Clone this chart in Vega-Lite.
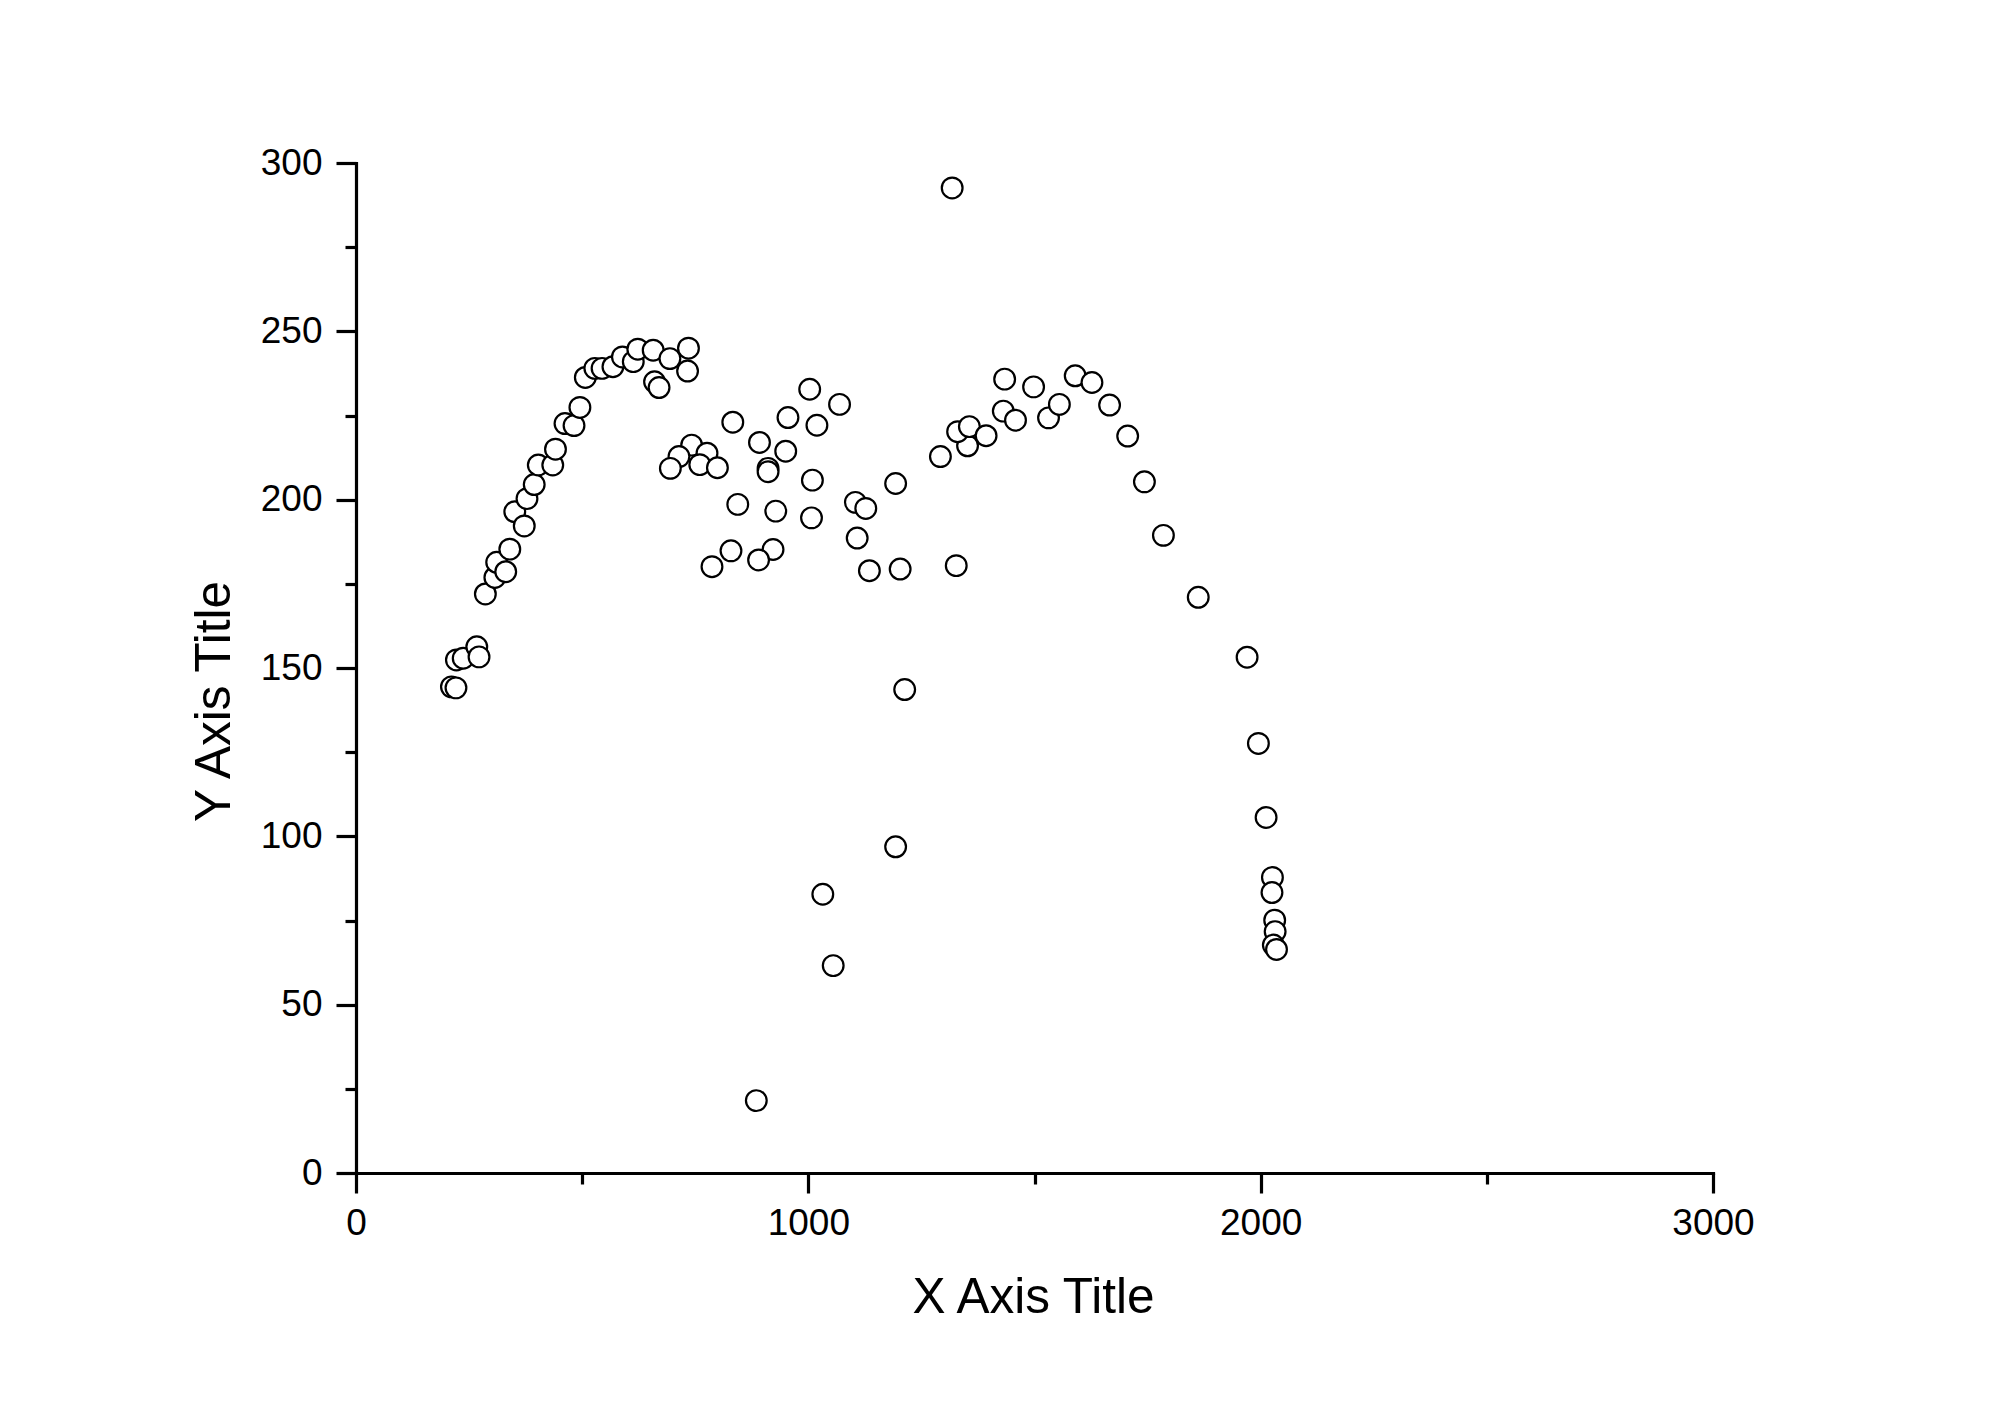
{
  "$schema": "https://vega.github.io/schema/vega-lite/v6.json",
  "width": 1357,
  "height": 1010,
  "autosize": {"type": "none"},
  "padding": {"left": 356, "top": 163, "right": 277, "bottom": 234},
  "background": "white",
  "config": {
    "view": {"stroke": null},
    "axis": {
      "labelFont": "Liberation Sans",
      "titleFont": "Liberation Sans",
      "labelColor": "black",
      "titleColor": "black",
      "tickColor": "black",
      "domainColor": "black",
      "grid": false
    }
  },
  "data": {
    "values": [
      {"x": 211, "y": 144.4}, {"x": 221, "y": 144.1}, {"x": 222, "y": 152.4}, {"x": 237, "y": 152.9},
      {"x": 267, "y": 156.3}, {"x": 272, "y": 153.3}, {"x": 286, "y": 172}, {"x": 307, "y": 176.9},
      {"x": 311, "y": 181.4}, {"x": 331, "y": 178.6}, {"x": 340, "y": 185.3}, {"x": 351, "y": 196.4},
      {"x": 372, "y": 192.2}, {"x": 378, "y": 200.3}, {"x": 394, "y": 204.5}, {"x": 403, "y": 210.3},
      {"x": 435, "y": 210.3}, {"x": 441, "y": 215}, {"x": 462, "y": 222.6}, {"x": 482, "y": 222},
      {"x": 495, "y": 227.4}, {"x": 507, "y": 236.3}, {"x": 528, "y": 239}, {"x": 544, "y": 239},
      {"x": 568, "y": 239.5}, {"x": 589, "y": 242.4}, {"x": 613, "y": 241}, {"x": 623, "y": 244.7},
      {"x": 657, "y": 244.4}, {"x": 660, "y": 235}, {"x": 670, "y": 233.3}, {"x": 694, "y": 241.9},
      {"x": 733, "y": 238.2}, {"x": 735, "y": 245},
      {"x": 742, "y": 216.2}, {"x": 714, "y": 212.8}, {"x": 695, "y": 209.3}, {"x": 776, "y": 213.8},
      {"x": 760, "y": 210.4}, {"x": 799, "y": 209.5}, {"x": 833, "y": 223}, {"x": 892, "y": 217},
      {"x": 911, "y": 209.3}, {"x": 911, "y": 208.3}, {"x": 950, "y": 214.4}, {"x": 955, "y": 224.4},
      {"x": 1003, "y": 232.8}, {"x": 1019, "y": 222.1}, {"x": 1069, "y": 228.3}, {"x": 1009, "y": 205.8},
      {"x": 844, "y": 198.6}, {"x": 928, "y": 196.6}, {"x": 1007, "y": 194.6}, {"x": 1104, "y": 199.2},
      {"x": 1127, "y": 197.4}, {"x": 1108, "y": 188.6}, {"x": 1193, "y": 204.8}, {"x": 829, "y": 184.8},
      {"x": 787, "y": 180.1}, {"x": 922, "y": 185.2}, {"x": 890, "y": 182.1}, {"x": 1135, "y": 178.9},
      {"x": 1203, "y": 179.4}, {"x": 1327, "y": 180.4}, {"x": 1213, "y": 143.6}, {"x": 1193, "y": 96.9},
      {"x": 1032, "y": 82.8}, {"x": 1055, "y": 61.6}, {"x": 885, "y": 21.5}, {"x": 1318, "y": 292.6},
      {"x": 1292, "y": 212.8}, {"x": 1352, "y": 216}, {"x": 1330, "y": 220.2}, {"x": 1356, "y": 221.7},
      {"x": 1393, "y": 219}, {"x": 1434, "y": 235.8}, {"x": 1431, "y": 226.3}, {"x": 1458, "y": 223.6},
      {"x": 1498, "y": 233.5}, {"x": 1531, "y": 224.3}, {"x": 1555, "y": 228.3}, {"x": 1590, "y": 236.8},
      {"x": 1627, "y": 234.8}, {"x": 1666, "y": 228.1}, {"x": 1706, "y": 218.9}, {"x": 1743, "y": 205.3},
      {"x": 1785, "y": 189.4}, {"x": 1862, "y": 171}, {"x": 1970, "y": 153.2}, {"x": 1995, "y": 127.6},
      {"x": 2012, "y": 105.6}, {"x": 2026, "y": 87.8}, {"x": 2025, "y": 83.3}, {"x": 2031, "y": 75.1},
      {"x": 2032, "y": 71.7}, {"x": 2028, "y": 67.7}, {"x": 2035, "y": 66.4}
    ]
  },
  "resolve": {
    "scale": {"x": "shared", "y": "shared"},
    "axis": {"x": "independent", "y": "independent"}
  },
  "layer": [
    {
      "mark": {"type": "point", "shape": "circle", "filled": false, "fill": "white", "fillOpacity": 1, "stroke": "black", "strokeWidth": 2.2, "opacity": 1, "size": 430},
      "encoding": {
        "x": {
          "field": "x", "type": "quantitative",
          "scale": {"domain": [0, 3000], "nice": false, "zero": false},
          "axis": {
            "orient": "bottom",
            "values": [0, 1000, 2000, 3000],
            "format": "d",
            "title": "X Axis Title",
            "titleFontSize": 49.5, "titleFontWeight": "normal",
            "titleX": 677, "titleY": 139, "titleAlign": "center", "titleBaseline": "alphabetic", "titleAnchor": null,
            "labelFontSize": 37, "labelPadding": 12, "labelFlush": false, "labelOverlap": false,
            "tickSize": 20, "tickWidth": 3.2, "domainWidth": 3.2, "domainCap": "square", "tickCap": "butt"
          }
        },
        "y": {
          "field": "y", "type": "quantitative",
          "scale": {"domain": [0, 300], "nice": false, "zero": false},
          "axis": {
            "orient": "left",
            "values": [0, 50, 100, 150, 200, 250, 300],
            "format": "d",
            "title": "Y Axis Title",
            "titleFontSize": 49.5, "titleFontWeight": "normal",
            "titleX": -127, "titleY": 538, "titleAlign": "center", "titleBaseline": "alphabetic", "titleAngle": -90, "titleAnchor": null,
            "labelFontSize": 37, "labelPadding": 14, "labelFlush": false, "labelOverlap": false,
            "tickSize": 20, "tickWidth": 3.2, "domainWidth": 3.2, "domainCap": "square", "tickCap": "butt"
          }
        }
      }
    },
    {
      "mark": {"type": "point", "opacity": 0},
      "encoding": {
        "x": {
          "field": "x", "type": "quantitative",
          "axis": {
            "orient": "bottom", "values": [500, 1500, 2500], "labels": false, "domain": false,
            "title": null, "tickSize": 11, "tickWidth": 3.2
          }
        },
        "y": {
          "field": "y", "type": "quantitative",
          "axis": {
            "orient": "left", "values": [25, 75, 125, 175, 225, 275], "labels": false, "domain": false,
            "title": null, "tickSize": 11, "tickWidth": 3.2
          }
        }
      }
    }
  ]
}
